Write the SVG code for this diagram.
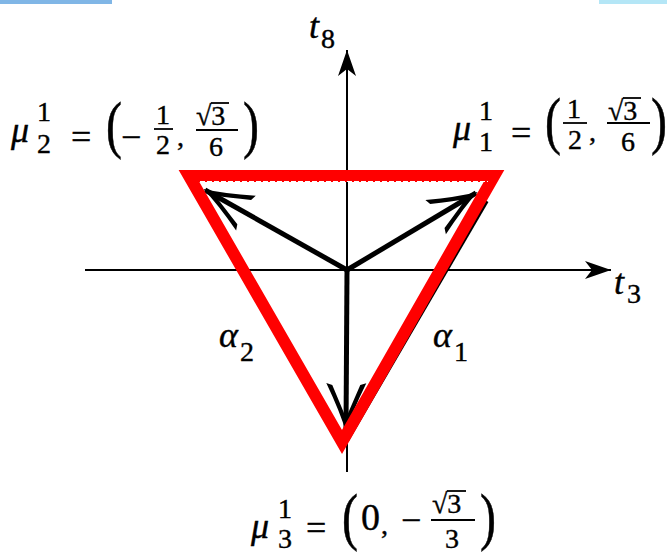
<svg xmlns="http://www.w3.org/2000/svg" width="667" height="555" viewBox="0 0 667 555" font-family="'Liberation Serif', 'Times New Roman', serif">
<style>
.t{fill:#000;stroke:#000;stroke-width:0.4}
.it{font-style:italic}
.m{font-size:36px}
.s{font-size:28px}
.ax{stroke:#000;stroke-width:2;fill:none}
.vec{stroke:#000;stroke-width:5;fill:none}
.bar{stroke:#000;stroke-width:1.8}
</style>
<defs>
<marker id="axh" viewBox="-30 -12 32 24" refX="0" refY="0" markerWidth="32" markerHeight="24" markerUnits="userSpaceOnUse" orient="auto">
<path d="M0,0 L-26,-9 L-19,0 L-26,9 Z" fill="#000"/>
</marker>
<marker id="vh" viewBox="-52 -24 57 48" refX="0" refY="0" markerWidth="57" markerHeight="48" markerUnits="userSpaceOnUse" orient="auto">
<path d="M2,0 Q-18,-6 -47,-20 L-45,-14 Q-24,-5 -12,0 Q-24,5 -45,14 L-47,20 Q-18,6 2,0 Z" fill="#000"/>
</marker>
</defs>
<rect x="0" y="0" width="112" height="4" fill="#80b6e6"/>
<rect x="599" y="0" width="68" height="4" fill="#b4e6f6"/>
<g id="connectors">
<line class="ax" x1="85" y1="270" x2="611" y2="270" marker-end="url(#axh)"/>
<line class="ax" x1="347" y1="472" x2="347" y2="50" marker-end="url(#axh)"/>
<line class="vec" x1="347" y1="270" x2="205" y2="190" marker-end="url(#vh)"/>
<line class="vec" x1="347" y1="270" x2="476" y2="193" marker-end="url(#vh)"/>
<line class="vec" x1="347" y1="270" x2="346" y2="430" stroke-width="6" marker-end="url(#vh)"/>
</g>
<g id="triangle">
<line x1="485" y1="200" x2="345" y2="440" stroke="#000" stroke-width="8"/>
<path d="M189,176 L494,176 L342,442 Z" fill="none" stroke="#ff0000" stroke-width="12" stroke-linejoin="miter" stroke-miterlimit="10"/>
<line x1="200" y1="181.5" x2="488" y2="181.5" stroke="#fff" stroke-width="1" stroke-dasharray="5,2"/>
</g>
<g id="t8-label">
<text class="t it m" x="309" y="38">t</text>
<text class="t s" x="321" y="48">8</text>
</g>
<g id="t3-label">
<text class="t it m" x="614" y="294">t</text>
<text class="t s" x="627" y="303">3</text>
</g>
<g id="alpha2">
<text class="t it m" x="219" y="347">α</text>
<text class="t s" x="240" y="361">2</text>
</g>
<g id="alpha1">
<text class="t it m" x="433" y="347">α</text>
<text class="t s" x="454" y="361">1</text>
</g>
<g id="mu2">
<text class="t it m" x="11" y="142">μ</text>
<text class="t s" x="37" y="121">1</text>
<text class="t s" x="37" y="153">2</text>
<text class="t m" x="71" y="149">=</text>
<text class="t" font-size="48" transform="translate(106,146) scale(1,1.3)">(</text>
<text class="t m" x="121" y="149">−</text>
<text class="t s" x="163" y="124" text-anchor="middle">1</text>
<line class="bar" x1="154" y1="129" x2="173" y2="129"/>
<text class="t s" x="163" y="154" text-anchor="middle">2</text>
<text class="t s" x="177" y="146">,</text>
<text class="t s" x="196" y="125">√3</text>
<line class="bar" x1="211" y1="103" x2="229" y2="103"/>
<line class="bar" x1="196" y1="130" x2="238" y2="130"/>
<text class="t s" x="216" y="156" text-anchor="middle">6</text>
<text class="t" font-size="48" transform="translate(243,146) scale(1,1.3)">)</text>
</g>
<g id="mu1">
<text class="t it m" x="453" y="140">μ</text>
<text class="t s" x="479" y="120">1</text>
<text class="t s" x="479" y="151">1</text>
<text class="t m" x="511" y="145">=</text>
<text class="t" font-size="48" transform="translate(545,142) scale(1,1.3)">(</text>
<text class="t s" x="574" y="118" text-anchor="middle">1</text>
<line class="bar" x1="563" y1="123" x2="587" y2="123"/>
<text class="t s" x="575" y="149" text-anchor="middle">2</text>
<text class="t s" x="589" y="141">,</text>
<text class="t s" x="608" y="120">√3</text>
<line class="bar" x1="623" y1="98" x2="641" y2="98"/>
<line class="bar" x1="607" y1="123" x2="650" y2="123"/>
<text class="t s" x="628" y="151" text-anchor="middle">6</text>
<text class="t" font-size="48" transform="translate(651,142) scale(1,1.3)">)</text>
</g>
<g id="mu3">
<text class="t it m" x="251" y="538">μ</text>
<text class="t s" x="278" y="518">1</text>
<text class="t s" x="278" y="548">3</text>
<text class="t m" x="306" y="540">=</text>
<text class="t" font-size="48" transform="translate(342,538) scale(1,1.3)">(</text>
<text class="t" font-size="38" x="361" y="530">0</text>
<text class="t s" x="381" y="534">,</text>
<text class="t m" x="401" y="532">−</text>
<text class="t s" x="432" y="513">√3</text>
<line class="bar" x1="447" y1="491" x2="466" y2="491"/>
<line class="bar" x1="431" y1="520" x2="475" y2="520"/>
<text class="t s" x="452" y="548" text-anchor="middle">3</text>
<text class="t" font-size="48" transform="translate(480,538) scale(1,1.3)">)</text>
</g>
</svg>
